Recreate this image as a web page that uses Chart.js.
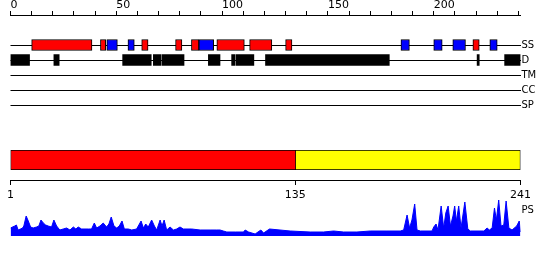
<!DOCTYPE html>
<html>
<head>
<meta charset="utf-8">
<script src="https://cdn.jsdelivr.net/npm/chart.js@4/dist/chart.umd.min.js"></script>
<style>
  body { margin: 0; background: #fff; }
  #wrap { position: relative; width: 550px; height: 260px; }
  canvas { position: absolute; left: 0; }
</style>
</head>
<body>
<div id="wrap">
  <canvas id="ruler" width="550" height="20" style="top:0"></canvas>
  <canvas id="tracks" width="550" height="90" style="top:30px"></canvas>
  <canvas id="domains" width="550" height="20" style="top:150px"></canvas>
  <canvas id="seqAxis" width="550" height="35" style="top:170px"></canvas>
  <canvas id="ps" width="550" height="40" style="top:196px"></canvas>
</div>
<script>
// sequence and track names
const seqLength = 241;
const trackNames = ['SS', 'D', 'TM', 'CC', 'SP'];
const rulerLabelEvery = 50;

// secondary structure spans (residue positions)
const helixSpans = [[10, 38.5], [42.5, 45], [62, 65], [78, 81], [85.5, 89], [97.5, 110.5],
  [113, 123.5], [130, 133], [218.5, 221.5]];
const strandSpans = [[45.5, 50.5], [55.5, 58.5], [89, 96], [184.5, 188.5], [200, 204],
  [209, 215], [226.5, 230]];
// disorder spans
const disorderSpans = [[0, 9], [20.5, 23], [53, 66.5], [67.5, 71], [71.5, 82], [93.5, 99],
  [104.5, 106], [106.5, 115], [120.5, 179], [220.5, 221.5], [233.5, 241]];

// domains along the sequence
const domainSpans = [[1, 135], [135, 241]];
const domainColors = ['#ff0000', '#ffff00'];
const seqTicks = [1, 135, 241];

// PS profile
const psLabel = 'PS';
const psResidue = [0, 2, 2.8, 3.6, 4.7, 5.7, 6.3, 7.4, 8.4, 9.5,
  10.7, 12.3, 13.4, 14.4, 15.5, 16.6, 17.8, 19.4, 20.5, 21.8,
  23.3, 24.9, 26.5, 28.1, 29.7, 30.9, 32, 33.6, 36.8, 38.3,
  39.6, 40.7, 42.3, 43.8, 45.4, 46.5, 47.6, 48.9, 50.2, 51.4,
  52.7, 53.8, 55.7, 57.3, 59.6, 61.7, 62.8, 63.9, 65.1, 66.7,
  68, 69.1, 70.7, 71.6, 72.6, 73.8, 75.4, 77, 78.5, 80.1,
  81.7, 85.6, 89.6, 94.3, 97.5, 99, 100.6, 102.2, 106.2, 110.1,
  110.9, 112.5, 115.6, 118.3, 119.6, 122.4, 132.2, 141.6, 147.9, 152.7,
  157.4, 163.7, 170, 177.9, 184.2, 185.8, 187.4, 188.6, 189.7, 191,
  192.1, 193.7, 199.2, 200, 201.1, 202, 203.5, 204.7, 205.7, 206.8,
  207.9, 209.1, 209.9, 210.7, 211.8, 212.9, 214.7, 216.1, 217.3, 223.7,
  225.2, 226.3, 227.6, 228.7, 229.6, 230.7, 231.8, 233.1, 234.2, 235.5,
  237, 239.2, 240.4, 241];
const psScore = [8, 10, 11, 6, 7, 8, 10, 20, 15, 9,
  8, 9, 10, 16, 13, 11, 10, 9, 16, 10,
  6, 7, 8, 6, 9, 7, 9, 7, 7, 7,
  13, 8, 10, 13, 9, 12, 19, 10, 8, 10,
  15, 7, 7, 6, 7, 15, 8, 12, 9, 16,
  10, 6, 16, 10, 16, 6, 9, 6, 7, 9,
  7, 7, 6, 6, 6, 6, 5, 4, 4, 4,
  6, 4, 2, 6, 3, 7, 5, 4, 4, 5,
  4, 4, 5, 5, 5, 6, 21, 8, 16, 32,
  6, 5, 5, 9, 12, 6, 30, 8, 23, 30,
  10, 20, 30, 15, 30, 8, 34, 7, 5, 5,
  8, 6, 8, 28, 16, 36, 10, 11, 35, 8,
  6, 10, 15, 4];

const LEFT = 10.5;
const RIGHT_GAP = 29.5;

Chart.defaults.font.family = 'DejaVu Sans';
Chart.defaults.font.size = 11;
Chart.defaults.color = '#000';
Chart.defaults.animation = false;
Chart.defaults.responsive = false;
Chart.defaults.plugins.legend.display = false;
Chart.defaults.plugins.tooltip.enabled = false;

// ruler on top
new Chart(document.getElementById('ruler'), {
  type: 'scatter',
  data: { datasets: [{ data: [] }] },
  options: {
    layout: { padding: { left: LEFT, right: RIGHT_GAP, top: 0, bottom: 0 } },
    scales: {
      x: {
        position: 'top', min: 0, max: seqLength,
        grid: { drawOnChartArea: false, color: '#000', tickLength: 4 },
        border: { color: '#000' },
        ticks: {
          stepSize: 10, includeBounds: false, align: 'start', padding: 0,
          maxRotation: 0, autoSkip: false, font: { lineHeight: 1 },
          callback: v => (v % rulerLabelEvery === 0 ? v : '')
        },
        afterFit: s => { s.height = 15; }
      },
      y: { display: false }
    }
  }
});

// feature tracks
const spanPoints = (spans, track) => spans.map(s => ({ x: s, y: track }));
new Chart(document.getElementById('tracks'), {
  type: 'bar',
  data: {
    labels: trackNames,
    datasets: [
      { data: spanPoints(helixSpans, 'SS'), backgroundColor: '#ff0000', borderColor: '#000', borderWidth: 1, borderSkipped: false },
      { data: spanPoints(strandSpans, 'SS'), backgroundColor: '#0000ff', borderColor: '#000', borderWidth: 1, borderSkipped: false },
      { data: spanPoints(disorderSpans, 'D'), backgroundColor: '#000', borderWidth: 0 }
    ]
  },
  options: {
    indexAxis: 'y',
    layout: { padding: { left: LEFT, right: 0, top: 7.5, bottom: 7.5 } },
    datasets: { bar: { barThickness: 11, grouped: false } },
    scales: {
      x: { display: false, min: 0, max: seqLength },
      y: {
        position: 'right', offset: true,
        grid: { offset: false, color: '#000', drawTicks: false },
        border: { display: false },
        ticks: { padding: 1, font: { size: 10 } },
        afterFit: s => { s.width = RIGHT_GAP; }
      }
    }
  }
});

// domain bar
new Chart(document.getElementById('domains'), {
  type: 'bar',
  data: {
    labels: ['domains'],
    datasets: domainSpans.map((s, i) => ({
      data: [s], backgroundColor: domainColors[i], borderColor: '#000', borderWidth: 1,
      borderSkipped: i === 0 ? 'right' : false
    }))
  },
  options: {
    indexAxis: 'y',
    layout: { padding: { left: LEFT, right: RIGHT_GAP } },
    datasets: { bar: { grouped: false, categoryPercentage: 1, barPercentage: 1 } },
    scales: {
      x: { display: false, min: 1, max: seqLength },
      y: { display: false }
    }
  }
});

// sequence axis under the domains
new Chart(document.getElementById('seqAxis'), {
  type: 'scatter',
  data: { datasets: [{ data: [] }] },
  options: {
    layout: { padding: { left: LEFT, right: RIGHT_GAP } },
    scales: {
      x: {
        min: 1, max: seqLength,
        grid: { drawOnChartArea: false, color: '#000', tickLength: 5 },
        border: { color: '#000' },
        ticks: { padding: 5, maxRotation: 0, autoSkip: false, font: { lineHeight: 1 } },
        afterBuildTicks: s => { s.ticks = seqTicks.map(v => ({ value: v })); },
        afterFit: s => { s.height = 25; }
      },
      y: { display: false }
    }
  }
});

// PS profile
new Chart(document.getElementById('ps'), {
  type: 'line',
  data: {
    datasets: [{
      data: psResidue.map((r, i) => ({ x: r, y: psScore[i] })),
      borderColor: '#0000ff', backgroundColor: '#0000ff', borderWidth: 1,
      fill: 'origin', pointRadius: 0, tension: 0
    }]
  },
  options: {
    layout: { padding: { left: LEFT, right: 0 } },
    scales: {
      x: { type: 'linear', display: false, min: 0, max: seqLength },
      y: {
        position: 'right', min: 0, max: 40,
        grid: { drawOnChartArea: false, drawTicks: false }, border: { display: false },
        ticks: { padding: 1, font: { size: 10 }, callback: () => psLabel },
        afterBuildTicks: s => { s.ticks = [{ value: 26 }]; },
        afterFit: s => {
          s.width = RIGHT_GAP;
          s.paddingTop = 0;
          s.paddingBottom = 0;
        }
      }
    }
  }
});
</script>
</body>
</html>
